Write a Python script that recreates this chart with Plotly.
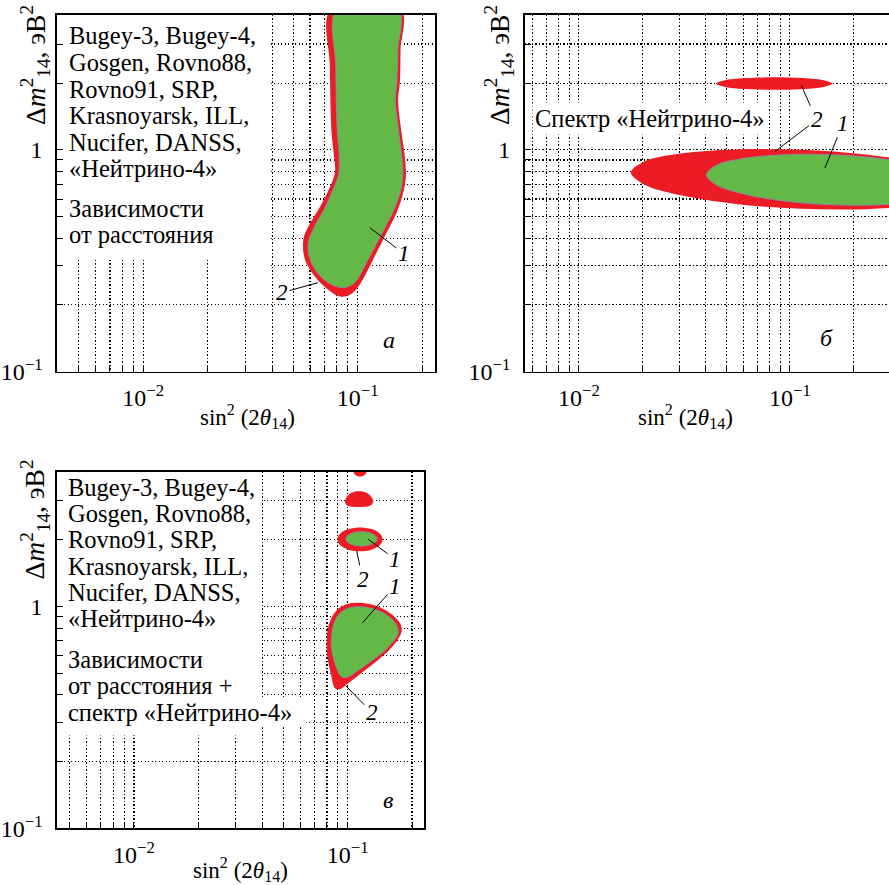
import numpy as np
import plotly.graph_objects as go

W, H = 889, 885          # design (reference) pixel grid
FIG_H = 897              # page height actually captured (squeezed to 885)
FONT = "Liberation Serif"
RED = "#ED1C24"
GREEN = "#63B846"
OUTLINE = "#8a8aa0"

# ---------------- data ----------------
# axis ticks
X_TICKS = [0.005, 0.006, 0.007, 0.008, 0.009, 0.01, 0.02, 0.03, 0.04, 0.05,
           0.06, 0.07, 0.08, 0.09, 0.1, 0.2]
X_LABELS = {0.01: "10<sup>−2</sup>", 0.1: "10<sup>−1</sup>"}
Y_TICKS = [0.2, 0.3, 0.4, 0.5, 0.6, 0.7, 0.8, 0.9, 1, 2, 3]
Y_LABELS = {0.1: "10<sup>−1</sup>", 1: "1"}

# panel a: distance dependence (linear values)
A_RED_X = [0.0751, 0.0743, 0.0757, 0.0770, 0.0784, 0.0743, 0.0668, 0.0589, 0.0558,
           0.0568, 0.0633, 0.0730, 0.0827, 0.0921, 0.1007, 0.110, 0.1226, 0.1365,
           0.152, 0.1631, 0.1679, 0.1661, 0.1603, 0.1545, 0.1574, 0.1586, 0.1590]
A_RED_Y = [4.3, 2.37, 1.19, 1.0, 0.79, 0.68, 0.554, 0.45, 0.393, 0.32, 0.268, 0.234,
           0.218, 0.222, 0.2415, 0.279, 0.344, 0.423, 0.52, 0.64, 0.756, 0.93, 1.19,
           1.68, 2.0, 2.82, 4.3]
A_GRN_X = [0.0801, 0.0792, 0.0805, 0.0818, 0.0818, 0.0767, 0.0697, 0.0619, 0.0587,
           0.0606, 0.0668, 0.0759, 0.0854, 0.0940, 0.1003, 0.1081, 0.1204, 0.134,
           0.1492, 0.1591, 0.1626, 0.1608, 0.1557, 0.150, 0.1524, 0.1541, 0.1549]
A_GRN_Y = [4.3, 2.365, 1.193, 1.0, 0.788, 0.660, 0.537, 0.436, 0.3733, 0.313, 0.2707,
           0.2465, 0.239, 0.2465, 0.2624, 0.3002, 0.3656, 0.4454, 0.548, 0.660, 0.772,
           0.93, 1.193, 1.68, 2.0, 2.82, 4.3]

# panel б: spectrum (log10 values)
B_RED_BIG_LX = [-0.1422, -0.2033, -0.3782, -0.6393, -0.9479, -1.2564, -1.5175, -1.6924,
                -1.7536, -1.6924, -1.5175, -1.2564, -0.9479, -0.6393, -0.3782, -0.2033]
B_RED_BIG_LY = [-0.1635, -0.2122, -0.2486, -0.2676, -0.2658, -0.2441, -0.2054, -0.1554,
                -0.1023, -0.0536, -0.0171, 0.0018, 0.0, -0.0216, -0.0604, -0.1104]
B_GRN_BIG_LX = [-0.2009, -0.2464, -0.3758, -0.5692, -0.7981, -1.0270, -1.2204, -1.3498,
                -1.3953, -1.3498, -1.2204, -1.0270, -0.7981, -0.5692, -0.3758, -0.2464]
B_GRN_BIG_LY = [-0.1577, -0.1991, -0.2306, -0.2477, -0.2477, -0.2306, -0.1986, -0.1572,
                -0.1126, -0.0707, -0.0392, -0.0225, -0.0225, -0.0396, -0.0716, -0.1131]
B_RED_SM_LX = [-0.7981, -0.8351, -0.9360, -1.0744, -1.2123, -1.3137, -1.3507, -1.3137,
               -1.2123, -1.0744, -0.9360, -0.8351]
B_RED_SM_LY = [0.2986, 0.2845, 0.2739, 0.2703, 0.2739, 0.2845, 0.2986, 0.3128, 0.3234,
               0.3270, 0.3234, 0.3128]

# panel в: combined (log10 values)
C_RED_BIG_LX = [-0.9658, -0.905, -0.8395, -0.7833, -0.7529, -0.7473, -0.7646, -0.8114,
                -0.8769, -0.9424, -1.0033, -1.036, -1.0594, -1.0781, -1.0945, -1.0983,
                -1.0875, -1.0594, -1.022]
C_RED_BIG_LY = [0.0171, 0.0126, -0.0077, -0.0437, -0.0797, -0.1090, -0.1473, -0.2014,
                -0.2554, -0.3050, -0.3500, -0.3725, -0.3680, -0.3050, -0.2284, -0.1473,
                -0.0797, -0.0257, 0.0036]
C_GRN_BIG_LX = [-0.9518, -0.9003, -0.8395, -0.7927, -0.767, -0.7646, -0.7833, -0.8301,
                -0.891, -0.9565, -1.0033, -1.0314, -1.0547, -1.0735, -1.0758, -1.0641,
                -1.036, -0.9986]
C_GRN_BIG_LY = [-0.0009, -0.0054, -0.0257, -0.0572, -0.0932, -0.1203, -0.1518, -0.2014,
                -0.2464, -0.2914, -0.3185, -0.3140, -0.2689, -0.2014, -0.1383, -0.0752,
                -0.0302, -0.0077]
C_RED_RING_LX = [-0.8362, -0.8503, -0.8893, -0.9424, -0.9956, -1.0346, -1.0487, -1.0346,
                 -0.9956, -0.9424, -0.8893, -0.8503]
C_RED_RING_LY = [0.3032, 0.2761, 0.2563, 0.2491, 0.2563, 0.2761, 0.3032, 0.3302, 0.3500,
                 0.3572, 0.3500, 0.3302]
C_GRN_RING_LX = [-0.8629, -0.8727, -0.8992, -0.9354, -0.9717, -0.9981, -1.008, -0.9981,
                 -0.9717, -0.9354, -0.8992, -0.8727]
C_GRN_RING_LY = [0.3054, 0.2892, 0.2775, 0.2730, 0.2775, 0.2892, 0.3054, 0.3216, 0.3333,
                 0.3378, 0.3333, 0.3216]
C_RED_B3_LX = [-0.8802, -0.8933, -0.9331, -0.9799, -1.0056, -1.0126, -1.0033, -0.9799,
               -0.9471, -0.9144, -0.891]
C_RED_B3_LY = [0.4743, 0.4563, 0.4495, 0.4505, 0.4586, 0.4743, 0.4968, 0.5149, 0.5207,
               0.5149, 0.4968]
C_RED_TOP_LX = [-0.9073, -0.9176, -0.9424, -0.9672, -0.9775, -0.9672, -0.9424, -0.9176]
C_RED_TOP_LY = [0.623, 0.5973, 0.5869, 0.5973, 0.623, 0.6486, 0.659, 0.6486]

# text
TEXT_A = ["Bugey-3, Bugey-4,", "Gosgen, Rovno88,", "Rovno91, SRP,",
          "Krasnoyarsk, ILL,", "Nucifer, DANSS,", "«Нейтрино-4»",
          "Зависимости", "от расстояния"]
TEXT_C = ["Bugey-3, Bugey-4,", "Gosgen, Rovno88,", "Rovno91, SRP,",
          "Krasnoyarsk, ILL,", "Nucifer, DANSS,", "«Нейтрино-4»",
          "Зависимости", "от расстояния +", "спектр «Нейтрино-4»"]
TEXT_B = "Спектр «Нейтрино-4»"
XTITLE = "sin<sup>2</sup> (2<i>θ</i><sub>14</sub>)"
YTITLE = "Δ<i>m</i><sup>2</sup><sub>14</sub>, эВ<sup>2</sup>"

# ---------------- layout geometry (design pixels) ----------------
A_BOX = (57, 435, 15, 372)
B_BOX = (524.7, 889, 15, 372)
C_BOX = (57, 424.3, 472.3, 829.3)
A_XR = [-2.402, -0.639]
B_XR = [-2.257, -0.53]
C_XR = [-2.36, -0.6416]
YR = [-1, 0.608]
TXT_SIZE = 24.5


def dom_x(b):
    return [b[0] / W, min(b[1] / W, 1.0)]


def dom_y(b):
    return [1 - b[3] / H, 1 - b[2] / H]


fig = go.Figure()


def poly(xs, ys, xa, ya, color, outline=None):
    xs = list(xs) + [xs[0]]
    ys = list(ys) + [ys[0]]
    fig.add_trace(go.Scatter(
        x=xs, y=ys, mode="lines", fill="toself", fillcolor=color,
        line=dict(color=outline if outline else color, width=1 if outline else 0,
                  shape="spline", smoothing=1.0),
        xaxis=xa, yaxis=ya, hoverinfo="skip", showlegend=False))


def lg(v):
    return list(10 ** np.array(v))


# panel a
poly(A_RED_X, A_RED_Y, "x", "y", RED)
poly(A_GRN_X, A_GRN_Y, "x", "y", GREEN, OUTLINE)
# panel б
poly(lg(B_RED_BIG_LX), lg(B_RED_BIG_LY), "x2", "y2", RED)
poly(lg(B_RED_SM_LX), lg(B_RED_SM_LY), "x2", "y2", RED)
poly(lg(B_GRN_BIG_LX), lg(B_GRN_BIG_LY), "x2", "y2", GREEN, OUTLINE)
# panel в
poly(lg(C_RED_BIG_LX), lg(C_RED_BIG_LY), "x3", "y3", RED)
poly(lg(C_RED_RING_LX), lg(C_RED_RING_LY), "x3", "y3", RED)
poly(lg(C_RED_B3_LX), lg(C_RED_B3_LY), "x3", "y3", RED)
poly(lg(C_RED_TOP_LX), lg(C_RED_TOP_LY), "x3", "y3", RED)
poly(lg(C_GRN_BIG_LX), lg(C_GRN_BIG_LY), "x3", "y3", GREEN, OUTLINE)
poly(lg(C_GRN_RING_LX), lg(C_GRN_RING_LY), "x3", "y3", GREEN, OUTLINE)


def axis(kind, box, rng, anchor, mirror=True):
    if kind == "x":
        vals = sorted(set(X_TICKS + [0.01, 0.1]))
        labels = [X_LABELS.get(v, "") for v in vals]
        dom = dom_x(box)
        standoff = 4
    else:
        vals = sorted(set(Y_TICKS + [0.1, 1]))
        labels = [Y_LABELS.get(v, "") for v in vals]
        dom = dom_y(box)
        standoff = 8
    return dict(type="log", range=rng, domain=dom, anchor=anchor,
                tickmode="array", tickvals=vals, ticktext=labels,
                ticks="inside", ticklen=6, tickwidth=1, tickcolor="black",
                showline=True, linecolor="black", linewidth=1.6, mirror=mirror,
                showgrid=True, gridcolor="black", gridwidth=1.1,
                griddash="1.3px,2.2px",
                zeroline=False, ticklabelstandoff=standoff,
                tickfont=dict(family=FONT, size=24, color="black"))


fig.update_layout(
    width=W, height=FIG_H, margin=dict(l=0, r=0, t=0, b=0),
    paper_bgcolor="white", plot_bgcolor="white", showlegend=False,
    hovermode=False,
    xaxis=axis("x", A_BOX, A_XR, "y"),
    yaxis=axis("y", A_BOX, YR, "x"),
    xaxis2=axis("x", B_BOX, B_XR, "y2"),
    yaxis2=axis("y", B_BOX, YR, "x2", mirror=False),
    xaxis3=axis("x", C_BOX, C_XR, "y3"),
    yaxis3=axis("y", C_BOX, YR, "x3"),
)

# white masks hiding the grid behind the text blocks
masks = [("x", "y", 0.0035, 0.0395, 0.325, 4.5),
         ("x", "y", 0.0035, 0.0395, 0.297, 0.303),
         ("x3", "y3", 0.0035, 0.0393, 0.2625, 4.5),
         ("x3", "y3", 0.0393, 0.0642, 0.286, 0.39)]
for xr, yr, x0, x1, y0, y1 in masks:
    fig.add_shape(type="rect", xref=xr, yref=yr, x0=x0, x1=x1, y0=y0, y1=y1,
                  fillcolor="white", line=dict(width=0), layer="between")

ann = []


def txt(px, py_base, s, size=TXT_SIZE, anchor="left", **kw):
    ann.append(dict(xref="paper", yref="paper", x=px / W,
                    y=1 - (py_base - 0.3375 * size) / H, text=s, showarrow=False,
                    xanchor=anchor, yanchor="middle",
                    font=dict(family=FONT, size=size, color="black"), **kw))


A_BASE = [44.3, 71, 97.7, 124.3, 151, 176.7, 216.7, 243.3]
for s, b in zip(TEXT_A, A_BASE):
    txt(67, b, s)
C_BASE = [496, 522.3, 548.3, 575, 601.7, 627.7, 668.3, 695, 721.7]
for s, b in zip(TEXT_C, C_BASE):
    txt(66, b, s)
txt(532, 126.7, TEXT_B, bgcolor="white", borderpad=2)

# panel letters
for px, py, s in [(389, 340, "<i>a</i>"), (826, 338, "<i>б</i>"), (388, 801, "<i>в</i>")]:
    ann.append(dict(xref="paper", yref="paper", x=px / W, y=1 - py / H, text=s,
                    showarrow=False, xanchor="center", yanchor="middle",
                    font=dict(family=FONT, size=24, color="black")))

# axis titles
for px, py in [(247, 417), (685, 417), (240.6, 870)]:
    ann.append(dict(xref="paper", yref="paper", x=px / W, y=1 - py / H, text=XTITLE,
                    showarrow=False, xanchor="center", yanchor="middle",
                    font=dict(family=FONT, size=23, color="black")))
for px, py in [(35, 65), (499, 65), (35, 520)]:
    ann.append(dict(xref="paper", yref="paper", x=px / W, y=1 - py / H, text=YTITLE,
                    showarrow=False, xanchor="center", yanchor="middle", textangle=-90,
                    font=dict(family=FONT, size=27.5, color="black")))

# numbered leaders: (xaxis, yaxis, head_lx, head_ly, text_lx, text_ly, label, visible)
LEADERS = [
    ("x", "y", -0.9427, -0.3514, -0.7844, -0.4685, "1", True),
    ("x", "y", -1.1849, -0.5991, -1.3526, -0.6441, "2", True),
    ("x2", "y2", -0.9445, 0.2883, -0.8735, 0.1351, "2", True),
    ("x2", "y2", -1.0711, -0.0077, -0.8735, 0.1351, "2", False),
    ("x2", "y2", -0.8341, -0.0824, -0.7474, 0.1203, "1", True),
    ("x3", "y3", -0.9036, 0.3032, -0.7787, 0.2131, "1", True),
    ("x3", "y3", -0.9579, 0.2505, -0.9298, 0.123, "2", True),
    ("x3", "y3", -0.9298, -0.0721, -0.7787, 0.0928, "1", True),
    ("x3", "y3", -1.008, -0.3577, -0.8877, -0.4775, "2", True),
]
for xr, yr, hx, hy, tx, ty, lab, vis in LEADERS:
    ann.append(dict(xref=xr, yref=yr, x=hx, y=hy, axref=xr, ayref=yr, ax=tx, ay=ty,
                    text="<i>%s</i>" % lab, showarrow=True, arrowhead=0, arrowwidth=1,
                    arrowcolor="black", standoff=0, startstandoff=0,
                    font=dict(family=FONT, size=23,
                              color="black" if vis else "rgba(0,0,0,0)")))

fig.update_layout(annotations=ann)
fig.write_html(
    "out.html",
    config={"displayModeBar": False, "staticPlot": True},
    post_script=(
        "document.documentElement.style.margin='0';"
        "document.documentElement.style.overflow='hidden';"
        "document.body.style.margin='0';"
        "document.body.style.overflow='hidden';"
        "var d=document.getElementById('{plot_id}');"
        "d.style.position='fixed';d.style.left='0px';d.style.top='0px';"
    ),
)
